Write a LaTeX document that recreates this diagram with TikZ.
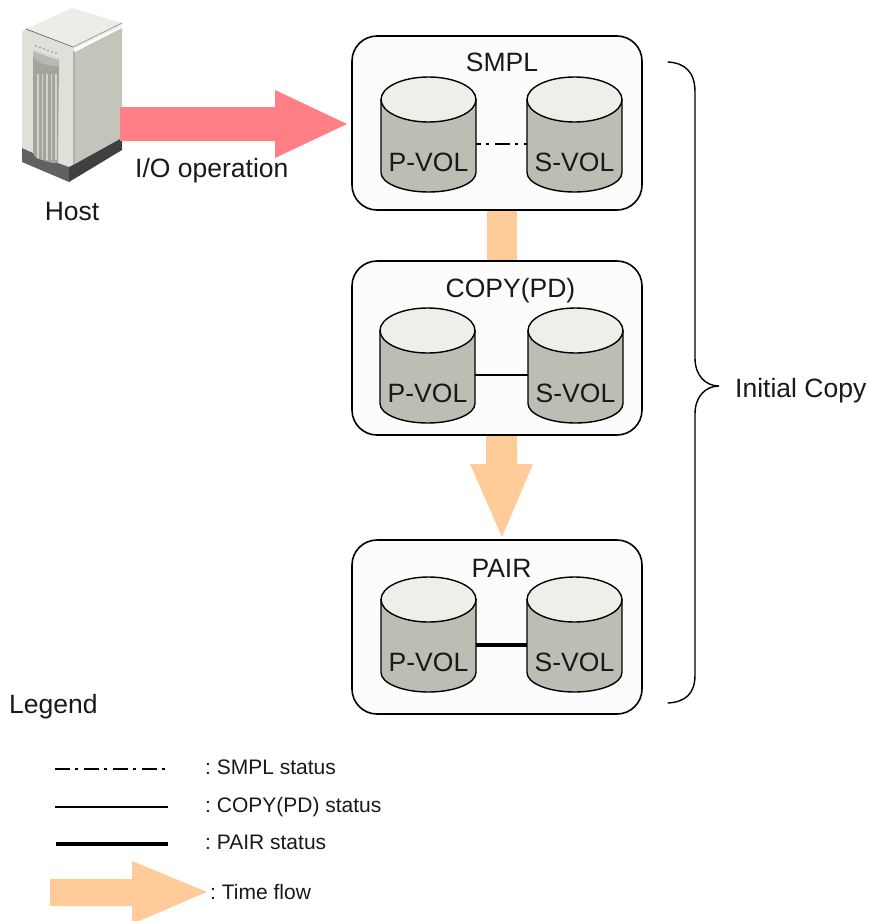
\documentclass[tikz,border=0pt]{standalone}
\usepackage{fontspec}
\setmainfont{Liberation Sans}
\frenchspacing
\definecolor{flow}{HTML}{FFCC99}
\definecolor{ioarrow}{HTML}{FF7F87}
\definecolor{volbody}{HTML}{BDBDB3}
\definecolor{voltop}{HTML}{EFEFEA}
\definecolor{hostlight}{HTML}{E0E0D8}
\definecolor{hostside}{HTML}{C4C4BA}
\definecolor{hosttop}{HTML}{EDEDE7}
\definecolor{hostpanel}{HTML}{A4A49A}
\definecolor{hostrib}{HTML}{D2D2CA}
\tikzset{
  statebox/.style={draw=black,line width=1.6pt,fill=black!1,rounded corners=25pt,minimum width=290pt,minimum height=174pt,inner sep=0pt,outer sep=0pt,anchor=north west},
  lbl/.style={font=\fontsize{26.5}{30}\selectfont,inner sep=0pt,anchor=base,text=black!90},
  lblw/.style={lbl,anchor=base west},
  small/.style={font=\fontsize{21}{25}\selectfont,inner sep=0pt,anchor=base west,text=black!90},
  volshape/.style={draw=black,line width=1.4pt},
  volanchor/.style={minimum width=95pt,minimum height=115pt,inner sep=0pt,outer sep=0pt,anchor=north},
  smplline/.style={line width=1.1pt,dash pattern=on 15pt off 5pt on 3pt off 6pt},
  copyline/.style={line width=1.3pt},
  pairline/.style={line width=3.6pt}
}
\newcommand{\volume}[4]{%
  \node[volanchor] (#1) at (#2,#3) {};
  \fill[volbody] (#2-47.5,#3+22) -- (#2-47.5,#3+95.5) arc[start angle=180,end angle=0,x radius=47.5,y radius=19.5] -- (#2+47.5,#3+22) -- cycle;
  \draw[volshape] (#2-47.5,#3+22) -- (#2-47.5,#3+95.5) arc[start angle=180,end angle=0,x radius=47.5,y radius=19.5] -- (#2+47.5,#3+22);
  \draw[volshape,fill=voltop] (#2,#3+22.5) ellipse[x radius=47.5,y radius=22.5];
  \node[lbl] at (#2,#3+94.5) {#4};
}
\begin{document}
\begin{tikzpicture}[x=1pt,y=-1pt]
\useasboundingbox (0,0) rectangle (869,921);
% host
\fill[hosttop] (26,29) -- (72,8) -- (122,23) -- (122,26) -- (74,49) -- cycle;
\fill[hostside] (75,52) -- (122,28) -- (122,140) -- (75,164) -- cycle;
\fill[hostlight] (22,32) -- (26,29) -- (73,48) -- (73,167) -- (69,167) -- (58,163) -- (22,148) -- cycle;
\fill[black!30] (73,50) -- (75,52) -- (75,165) -- (73,166) -- cycle;
\draw[black!60,line width=.7pt] (26,29) -- (73,47);
\draw[black!45,line width=.6pt] (73,47) -- (122,23);
\draw[white,line width=.8pt] (75,51) -- (122,27);
\fill[hostpanel] (33,50) -- (59,59) -- (58,163) -- (52,163) -- (36,158) -- (33,153) -- cycle;
\fill[black!28] (33,50) -- (59,59) -- (59,66) .. controls (46,66) and (35,62) .. (33,56) -- cycle;
\fill[hostlight] (33,50) -- (59,59) -- (59,60) -- (33,51) -- cycle;
\foreach \lx in {37,41.5,46,50.5,55}
  \fill[hostrib] (\lx,74) rectangle (\lx+1.8,160);
\foreach \lx/\ly in {36/46,40/47.5,44/49,48/50.5,52/52,56/53}
  \fill[black!45] (\lx,\ly) circle[radius=.8];
\fill[black!62] (22,148) -- (33,153) -- (36,158) -- (52,163) -- (58,163) -- (69,167) -- (69,182) -- (22,162) -- cycle;
\fill[black!75] (69,167) -- (75,164) -- (122,138) -- (122,150) -- (69,182) -- cycle;
% flow arrows
\fill[ioarrow] (120,107) -- (275,107) -- (275,90) -- (347,124) -- (275,158) -- (275,141) -- (120,141) -- cycle;
\fill[flow] (487,205) rectangle (517,266);
\fill[flow] (486,430) -- (517,430) -- (517,464) -- (533,464) -- (502,537) -- (470,464) -- (486,464) -- cycle;
% boxes
\node[statebox] (b1) at (352,36) {};
\node[statebox] (b2) at (352,261) {};
\node[statebox] (b3) at (352,540) {};
\node[lbl] at (502,71) {SMPL};
\node[lbl] at (510.5,297.5) {COPY(PD)};
\node[lbl] at (501.5,577.5) {PAIR};
% volumes
\volume{p1}{428.5}{77}{P-VOL}
\volume{s1}{574.5}{77}{S-VOL}
\volume{p2}{427.5}{308}{P-VOL}
\volume{s2}{575.5}{308}{S-VOL}
\volume{p3}{428.5}{577}{P-VOL}
\volume{s3}{574.5}{577}{S-VOL}
\draw[smplline,dash phase=10pt] ([yshift=-9.5pt]p1.east) -- ([yshift=-9.5pt]s1.west);
\draw[copyline] ([yshift=-9.5pt]p2.east) -- ([yshift=-9.5pt]s2.west);
\draw[pairline] ([yshift=-10.5pt]p3.east) -- ([yshift=-10.5pt]s3.west);
\node[lbl] (host) at (72,220.5) {Host};
\node[lblw] (io) at (135,177) {I/O operation};
% brace
\draw[line width=1.4pt,line cap=round] (668,62) .. controls (685,63) and (695,72) .. (695,92) -- (695,358) .. controls (695,376) and (706,386) .. (719,386) .. controls (706,386) and (695,396) .. (695,414) -- (695,675) .. controls (695,694) and (685,702) .. (668,703);
\node[lblw] (init) at (735,397) {Initial Copy};
% legend
\node[lblw] (legend) at (9,713.5) {Legend};
\coordinate (l1a) at (55,769); \coordinate (l1b) at (166,769);
\coordinate (l2a) at (55,807); \coordinate (l2b) at (168,807);
\coordinate (l3a) at (56,844); \coordinate (l3b) at (168,844);
\draw[smplline] (l1a) -- (l1b);
\draw[copyline] (l2a) -- (l2b);
\draw[line width=4pt] (l3a) -- (l3b);
\node[small] (t1) at (205,774.5) {: SMPL status};
\node[small] (t2) at (205,812) {: COPY(PD) status};
\node[small] (t3) at (205,849.5) {: PAIR status};
\fill[flow] (50,879) -- (132,879) -- (132,861) -- (207,892) -- (132,924) -- (132,906) -- (50,906) -- cycle;
\node[small] (t4) at (210,899.5) {: Time flow};
\end{tikzpicture}
\end{document}
